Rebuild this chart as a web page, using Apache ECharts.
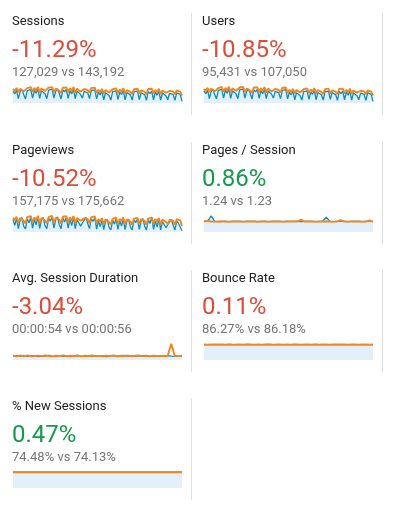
<!DOCTYPE html>
<html>
<head>
<meta charset="utf-8">
<script src="https://cdn.jsdelivr.net/npm/echarts@6/dist/echarts.min.js"></script>
<style>
html,body{margin:0;padding:0;background:#fff;}
#chart{width:394px;height:523px;}
</style>
</head>
<body>
<div id="chart"></div>
<script>
// ---- Data ----
const metricNames = ["Sessions", "Users", "Pageviews", "Pages / Session", "Avg. Session Duration", "Bounce Rate", "% New Sessions"];
const changeLabels = ["-11.29%", "-10.85%", "-10.52%", "0.86%", "-3.04%", "0.11%", "0.47%"];
const changeGood = [false, false, false, true, false, false, true];
const compareLabels = ["127,029 vs 143,192", "95,431 vs 107,050", "157,175 vs 175,662", "1.24 vs 1.23", "00:00:54 vs 00:00:56", "86.27% vs 86.18%", "74.48% vs 74.13%"];

const sessionsCur = [660,610,680,520,650,690,600,515, 670,640,690,530,675,620,700,525, 665,690,610,520,680,655,695,530, 660,700,620,515,685,645,690,525, 670,610,695,520,660,680,600,530, 655,690,630,520,675,650,685,515,
  640,590,660,500,630,655,580,495, 650,620,665,505,640,600,670,500, 635,660,590,495,650,625,660,505, 630,665,595,490,655,615,660,500, 640,585,660,495,625,650,575,500, 620,650,600,490,630,610,600,470];
const sessionsPrev = [700,660,720,640,705,730,655,625, 715,690,735,645,720,670,740,635, 710,730,665,630,725,700,735,640, 705,740,670,625,725,695,730,635, 715,660,735,630,705,725,650,640, 700,730,680,630,720,695,725,625,
  685,640,700,615,680,705,635,605, 695,670,710,620,690,650,715,610, 680,705,645,605,695,670,705,615, 675,710,650,600,700,665,705,610, 685,640,705,605,670,695,630,610, 665,695,655,600,675,660,650,575];

const usersCur = [495,458,510,390,488,518,450,386, 503,480,518,398,506,465,525,394, 499,518,458,390,510,491,521,398, 495,525,465,386,514,484,518,394, 503,458,521,390,495,510,450,398, 491,518,473,390,506,488,514,386,
  480,443,495,375,473,491,435,371, 488,465,499,379,480,450,503,375, 476,495,443,371,488,469,495,379, 473,499,446,368,491,461,495,375, 480,439,495,371,469,488,431,375, 465,488,450,368,473,458,450,352];
const usersPrev = [525,495,540,480,529,548,491,469, 536,518,551,484,540,503,555,476, 533,548,499,473,544,525,551,480, 529,555,503,469,544,521,548,476, 536,495,551,473,529,544,488,480, 525,548,510,473,540,521,544,469,
  514,480,525,461,510,529,476,454, 521,503,533,465,518,488,536,458, 510,529,484,454,521,503,529,461, 506,533,488,450,525,499,529,458, 514,480,529,454,503,521,473,458, 499,521,491,450,506,495,488,431];

const pageviewsCur = [860,720,890,640,840,900,700,635, 880,780,910,650,870,730,920,645, 850,905,710,640,890,820,915,655, 860,920,740,635,895,800,905,650, 870,710,915,640,855,890,700,655, 845,910,760,640,880,815,900,630,
  830,690,850,615,810,860,670,610, 845,750,870,625,835,700,880,615, 815,865,680,610,850,785,870,625, 820,880,705,605,855,760,920,620, 830,680,870,610,805,850,665,620, 800,860,725,605,820,770,810,590];
const pageviewsPrev = [900,840,925,770,895,935,830,760, 915,880,940,780,905,850,945,770, 890,935,840,765,920,895,940,780, 900,945,855,760,925,885,935,775, 910,835,940,765,895,925,825,780, 890,935,865,765,915,890,930,755,
  870,810,890,740,860,895,800,735, 880,850,900,750,870,820,905,740, 860,895,810,735,880,855,895,750, 865,900,825,730,885,850,895,745, 870,805,895,735,855,885,795,745, 850,885,830,730,865,845,840,700];

const pagesPerSessionCur = [1.24,1.25,1.9,1.24,1.23,1.25,1.24,1.23,1.24,1.25,1.24,1.23,1.24,1.24,1.25,1.23,1.24,1.24,1.23,1.24,1.25,1.24,1.23,1.24,1.24,1.25,1.24,1.23,1.24,1.25,1.24,1.23,1.24,1.26,1.75,1.24,1.23,1.24,1.25,1.24,1.23,1.24,1.25,1.24,1.23,1.24,1.25,1.24];
const pagesPerSessionPrev = [1.23,1.32,1.24,1.22,1.23,1.24,1.23,1.22,1.23,1.24,1.23,1.22,1.23,1.23,1.24,1.22,1.23,1.23,1.22,1.23,1.24,1.23,1.22,1.23,1.23,1.24,1.23,1.45,1.23,1.24,1.23,1.22,1.23,1.24,1.23,1.23,1.22,1.24,1.4,1.23,1.22,1.23,1.24,1.23,1.22,1.23,1.35,1.23];

const durationCur = [52,58,50,61,49,55,60,47,56,52,63,48,54,59,50,57,46,55,61,50,53,58,49,56,52,60,47,55,58,51,54,62,49,56,50,59,53,64,48,57,52,55,50,58,53,49,56,51];
const durationPrev = [57,51,60,53,62,50,56,59,52,61,54,49,58,55,63,51,57,53,60,49,58,54,61,52,56,50,59,55,62,51,57,54,60,50,58,63,52,56,51,59,55,53,57,52,220,56,54,58];

const bounceCur = [86.1,86.4,86.0,86.5,86.2,86.3,86.0,86.6,86.2,86.4,86.1,86.3,86.5,86.0,86.3,86.2,86.4,86.1,86.5,86.2,86.3,86.0,86.4,86.2,86.3,86.5,86.1,86.4,86.2,86.0,86.3,86.5,86.2,86.4,86.1,86.3,86.2,86.5,86.0,86.3,86.4,86.2,85.6,86.3,86.1,86.4,86.2,86.3];
const bouncePrev = [86.2,86.0,86.3,86.1,86.4,86.2,86.0,86.3,86.1,86.2,86.4,86.0,86.2,86.3,86.1,86.4,86.0,86.2,86.3,86.1,86.2,86.4,86.0,86.3,86.1,86.2,86.4,86.0,86.3,86.2,86.1,86.3,86.0,86.2,86.4,86.1,86.3,86.0,86.2,86.4,86.1,86.2,86.3,86.0,86.2,86.4,86.1,86.2];

const newSessCur = [74.6,74.2,74.8,74.4,74.5,74.9,74.3,74.6,74.2,74.7,74.5,74.3,74.8,74.4,74.6,74.1,74.5,74.7,74.3,74.6,74.4,74.8,74.2,74.5,74.6,74.3,74.7,74.4,74.5,74.2,74.8,74.5,74.3,74.6,74.4,74.7,74.2,74.5,74.6,74.3,74.7,74.4,74.5,74.2,74.6,74.4,74.7,74.5];
const newSessPrev = [74.1,74.4,73.9,74.2,74.0,74.3,74.1,73.8,74.2,74.0,74.3,74.1,73.9,74.2,74.0,74.4,74.1,73.9,74.2,74.0,74.3,74.1,73.8,74.2,74.0,74.3,74.1,73.9,74.2,74.1,74.0,74.3,73.9,74.2,74.1,74.4,74.0,74.2,73.9,74.1,74.3,74.0,74.2,74.1,73.9,74.3,74.1,74.2];

const seriesCur = [sessionsCur, usersCur, pageviewsCur, pagesPerSessionCur, durationCur, bounceCur, newSessCur];
const seriesPrev = [sessionsPrev, usersPrev, pageviewsPrev, pagesPerSessionPrev, durationPrev, bouncePrev, newSessPrev];
const yMins = [440, 330, 560, 0, 0, 0, 0];
const yMaxs = [755, 565, 965, 2, 230, 95, 80];

// ---- Layout ----
const rowY = [22, 151, 279, 407];
const colX = [12, 202];
const sparkLeft = [13, 204];
const sparkWidth = 169;
const sepX = [191, 382];

const chart = echarts.init(document.getElementById('chart'));
const grids = [], xAxes = [], yAxes = [], series = [], graphics = [];
const FONT = 'Roboto, "Noto Sans", Arial, sans-serif';

metricNames.forEach((name, i) => {
  const row = Math.floor(i / 2), col = i % 2;
  const ty = rowY[row];
  const x = colX[col];
  graphics.push({type:'text', x: x, y: ty, silent:true,
    style:{text:name, font:'13px ' + FONT, fill:'#212121', verticalAlign:'middle', align:'left'}});
  graphics.push({type:'text', x: x, y: ty + 29, silent:true,
    style:{text:changeLabels[i], font:'24px ' + FONT, fill: changeGood[i] ? '#139a4b' : '#dd4b39', verticalAlign:'middle', align:'left'}});
  graphics.push({type:'text', x: x, y: ty + 51, silent:true,
    style:{text:compareLabels[i], font:'13px ' + FONT, fill:'#757575', verticalAlign:'middle', align:'left'}});
  graphics.push({type:'line', silent:true,
    shape:{x1: sepX[col] + 0.5, y1: ty - 9, x2: sepX[col] + 0.5, y2: ty + 93},
    style:{stroke:'#e0e0e0', lineWidth:1}});

  grids.push({left: sparkLeft[col], top: ty + 64, width: sparkWidth, height: 17, containLabel:false});
  const cats = seriesCur[i].map((_, k) => k + 1);
  xAxes.push({type:'category', gridIndex:i, data:cats, show:false, boundaryGap:false});
  yAxes.push({type:'value', gridIndex:i, min:yMins[i], max:yMaxs[i], show:false});
  series.push({type:'line', xAxisIndex:i, yAxisIndex:i, data:seriesCur[i], symbol:'none',
    lineStyle:{color:'#058dc7', width:1.3}, itemStyle:{color:'#058dc7'},
    areaStyle:{color:'#e3eff9', opacity:1}, z:2});
  series.push({type:'line', xAxisIndex:i, yAxisIndex:i, data:seriesPrev[i], symbol:'none',
    lineStyle:{color:'#f0871f', width:1.9}, itemStyle:{color:'#f0871f'}, z:3});
});

chart.setOption({
  animation:false,
  backgroundColor:'#ffffff',
  grid:grids, xAxis:xAxes, yAxis:yAxes, series:series,
  graphic:graphics
});
</script>
</body>
</html>
